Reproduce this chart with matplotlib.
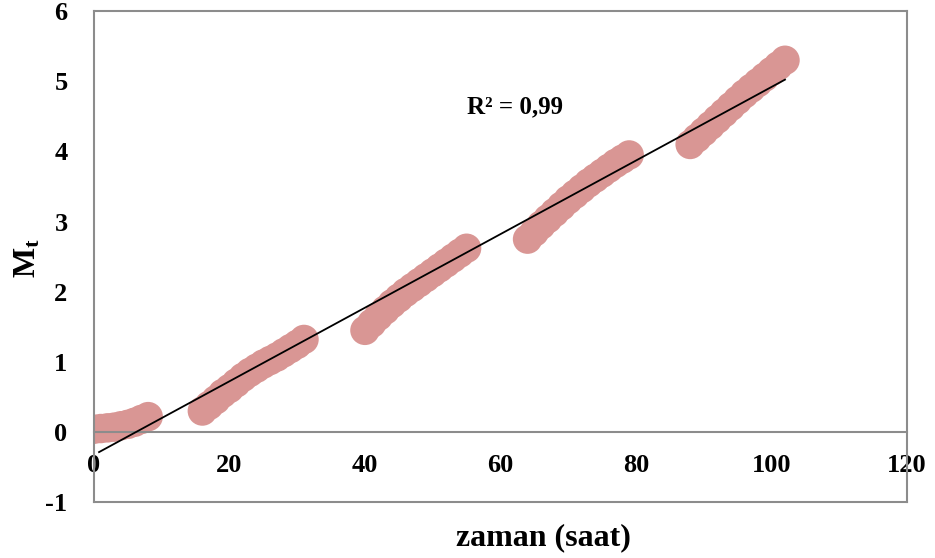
import numpy as np
import matplotlib.pyplot as plt

# zaman (saat) and M_t measurements, one run per segment
t1 = [0, 1, 2, 3, 4, 5, 6, 7, 8]
m1 = [0.04, 0.05, 0.06, 0.07, 0.09, 0.11, 0.14, 0.18, 0.22]
t2 = [16, 17, 18, 19, 20, 21, 22, 23, 24, 25, 26, 27, 28, 29, 30, 31]
m2 = [0.30, 0.38, 0.46, 0.55, 0.62, 0.70, 0.78, 0.85, 0.91, 0.97, 1.02, 1.07, 1.13, 1.19, 1.25, 1.32]
t3 = [40, 41, 42, 43, 44, 45, 46, 47, 48, 49, 50, 51, 52, 53, 54, 55]
m3 = [1.45, 1.55, 1.65, 1.74, 1.83, 1.91, 1.99, 2.06, 2.13, 2.20, 2.27, 2.34, 2.41, 2.48, 2.55, 2.62]
t4 = [64, 65, 66, 67, 68, 69, 70, 71, 72, 73, 74, 75, 76, 77, 78, 79]
m4 = [2.75, 2.85, 2.95, 3.04, 3.13, 3.22, 3.31, 3.39, 3.47, 3.55, 3.62, 3.69, 3.76, 3.83, 3.89, 3.95]
t5 = [88, 89, 90, 91, 92, 93, 94, 95, 96, 97, 98, 99, 100, 101, 102]
m5 = [4.10, 4.19, 4.28, 4.37, 4.46, 4.55, 4.64, 4.73, 4.82, 4.90, 4.98, 5.06, 5.14, 5.22, 5.30]

x_ticks = [0, 20, 40, 60, 80, 100, 120]
y_ticks = [-1, 0, 1, 2, 3, 4, 5, 6]
r2_label = "R² = 0,99"

t = np.array(t1 + t2 + t3 + t4 + t5, dtype=float)
m = np.array(m1 + m2 + m3 + m4 + m5, dtype=float)

plt.rcParams['font.family'] = ['Liberation Serif', 'DejaVu Serif']
plt.rcParams['font.weight'] = 'bold'
plt.rcParams['mathtext.fontset'] = 'custom'
plt.rcParams['mathtext.rm'] = 'Liberation Serif:bold'
plt.rcParams['mathtext.it'] = 'Liberation Serif:bold'
plt.rcParams['mathtext.bf'] = 'Liberation Serif:bold'

fig = plt.figure(figsize=(9.35, 5.58), dpi=100)
ax = fig.add_axes([0.1005, 0.100, 0.8695, 0.880])

ax.scatter(t, m, s=450, color='#D99694', edgecolors='none', zorder=2)

# linear trend line
k, b = np.polyfit(t, m, 1)
tl = np.array([0.75, 102])
ax.plot(tl, k * tl + b, color='black', lw=1.3, zorder=3)

ax.text(55, 4.64, r2_label, fontsize=18, fontweight='bold', ha='left', va='center')

ax.set_xlim(0, 120)
ax.set_ylim(-1, 6)
ax.set_xticks(x_ticks)
ax.set_yticks(y_ticks)
ax.set_xticklabels([str(v) for v in x_ticks])
ax.set_yticklabels([str(v) for v in y_ticks])

gray = '#8C8C8C'
for side in ['left', 'right', 'top']:
    ax.spines[side].set_color(gray)
    ax.spines[side].set_linewidth(1.5)
ax.spines['bottom'].set_position(('data', 0))
ax.spines['bottom'].set_color(gray)
ax.spines['bottom'].set_linewidth(1.5)
ax.axhline(-1, color=gray, lw=1.5, clip_on=False)

ax.tick_params(axis='x', length=0, pad=16, labelsize=19)
ax.tick_params(axis='y', length=0, pad=19, labelsize=19)
for lab in ax.get_xticklabels() + ax.get_yticklabels():
    lab.set_fontweight('bold')

fig.text(543 / 935, 1 - 538 / 558, 'zaman (saat)', fontsize=23, fontweight='bold',
         ha='center', va='center')
fig.text(28 / 935, 1 - 258 / 558, r'$\mathrm{M_t}$', fontsize=23, rotation=90,
         ha='center', va='center')

fig.savefig('out.png', dpi=100)
